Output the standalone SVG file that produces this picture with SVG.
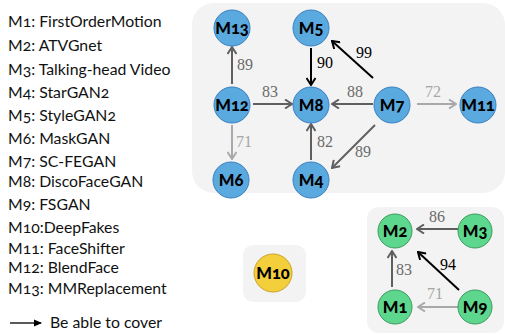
<svg xmlns="http://www.w3.org/2000/svg" width="505" height="335" viewBox="0 0 505 335">
  <style>
    .legend { font-family: Lato, "Open Sans", sans-serif; font-size: 15.8px; fill: #111; font-variant-numeric: oldstyle-nums; font-feature-settings: "onum" 1; }
    .panel { fill: #f3f3f3; }
    .node text { font-family: Lato, "Open Sans", sans-serif; font-weight: 900; font-size: 16.5px; fill: #000; text-anchor: middle; dominant-baseline: central; font-variant-numeric: oldstyle-nums; font-feature-settings: "onum" 1; }
    .blue circle { fill: #5aaae0; stroke: #3d7fc0; stroke-width: 1; }
    .green circle { fill: #5dd68e; stroke: #3c9a5e; stroke-width: 1; }
    .yellow circle { fill: #f4cf3c; stroke: #c9a227; stroke-width: 1; }
    .e { fill: none; stroke-width: 2; }
    .dark { stroke: #5f5f5f; marker-end: url(#ahDark); }
    .light { stroke: #a9a9a9; marker-end: url(#ahLight); }
    .black { stroke: #000; marker-end: url(#ahBlack); }
    .lbl { font-family: "Liberation Serif", serif; font-size: 16px; text-anchor: middle; }
    .lbl.dark { fill: #6a6a6a; stroke: none; marker-end: none; }
    .lbl.light { fill: #a6a6a6; stroke: none; marker-end: none; }
    .lbl.black { fill: #000; stroke: none; marker-end: none; }
  </style>
  <defs>
    <marker id="ahDark" viewBox="0 0 10 10" refX="9" refY="5" markerWidth="10" markerHeight="10" markerUnits="userSpaceOnUse" orient="auto">
      <path d="M2,0.5 L9,5 L2,9.5" fill="none" stroke="#5f5f5f" stroke-width="2"/>
    </marker>
    <marker id="ahLight" viewBox="0 0 10 10" refX="9" refY="5" markerWidth="10" markerHeight="10" markerUnits="userSpaceOnUse" orient="auto">
      <path d="M2,0.5 L9,5 L2,9.5" fill="none" stroke="#a9a9a9" stroke-width="2"/>
    </marker>
    <marker id="ahBlack" viewBox="0 0 10 10" refX="9" refY="5" markerWidth="10" markerHeight="10" markerUnits="userSpaceOnUse" orient="auto">
      <path d="M2,0.5 L9,5 L2,9.5" fill="none" stroke="#000" stroke-width="2"/>
    </marker>
  </defs>

  <!-- legend -->
  <g id="legend" class="legend">
    <text x="8" y="27">M1: FirstOrderMotion</text>
    <text x="8" y="51">M2: ATVGnet</text>
    <text x="8" y="75">M3: Talking-head Video</text>
    <text x="8" y="98">M4: StarGAN2</text>
    <text x="8" y="121">M5: StyleGAN2</text>
    <text x="8" y="144">M6: MaskGAN</text>
    <text x="8" y="167">M7: SC-FEGAN</text>
    <text x="8" y="187">M8: DiscoFaceGAN</text>
    <text x="8" y="210">M9: FSGAN</text>
    <text x="8" y="233">M10:DeepFakes</text>
    <text x="8" y="254">M11: FaceShifter</text>
    <text x="8" y="273">M12: BlendFace</text>
    <text x="8" y="294">M13: MMReplacement</text>
    <line x1="10" y1="323" x2="41" y2="323" stroke="#000" stroke-width="1.3"/>
    <path d="M34,319.5 L42,323 L34,326.5 Z" fill="#000"/>
    <text x="50" y="328">Be able to cover</text>
  </g>

  <!-- panels -->
  <rect class="panel" x="192" y="3" width="313" height="190" rx="22"/>
  <rect class="panel" x="367" y="207" width="137" height="126" rx="12"/>
  <rect class="panel" x="243" y="245" width="63" height="57" rx="10"/>

  <!-- connectors -->
  <g id="connectors">
    <line class="e dark" x1="232" y1="84" x2="232" y2="47"/>
    <text class="lbl dark" x="245" y="70">89</text>
    <line class="e black" x1="311" y1="48" x2="311" y2="85"/>
    <text class="lbl black" x="325" y="68">90</text>
    <line class="e black" x1="373" y1="78" x2="332" y2="41"/>
    <text class="lbl black" x="364" y="58">99</text>
    <line class="e dark" x1="253" y1="104" x2="292" y2="104"/>
    <text class="lbl dark" x="270" y="97">83</text>
    <line class="e dark" x1="373" y1="104" x2="332" y2="104"/>
    <text class="lbl dark" x="355" y="97">88</text>
    <line class="e light" x1="417" y1="104" x2="456" y2="104"/>
    <text class="lbl light" x="433" y="97">72</text>
    <line class="e light" x1="232" y1="125" x2="232" y2="159"/>
    <text class="lbl light" x="244" y="147">71</text>
    <line class="e dark" x1="311" y1="160" x2="311" y2="124"/>
    <text class="lbl dark" x="325" y="147">82</text>
    <line class="e dark" x1="375" y1="125" x2="332" y2="168"/>
    <text class="lbl dark" x="363" y="157">89</text>

    <line class="e dark" x1="460" y1="229" x2="417" y2="229"/>
    <text class="lbl dark" x="437" y="222">86</text>
    <line class="e dark" x1="392" y1="287" x2="392" y2="251"/>
    <text class="lbl dark" x="404" y="275">83</text>
    <line class="e black" x1="459" y1="290" x2="418" y2="252"/>
    <text class="lbl black" x="448" y="270">94</text>
    <line class="e light" x1="460" y1="307" x2="418" y2="307"/>
    <text class="lbl light" x="435" y="299">71</text>
  </g>

  <!-- nodes -->
  <g id="M13" class="node blue"><circle cx="232" cy="28" r="18"/><text x="232" y="28">M13</text></g>
  <g id="M5" class="node blue"><circle cx="311" cy="28" r="18"/><text x="311" y="28">M5</text></g>
  <g id="M12" class="node blue"><circle cx="232" cy="105" r="18"/><text x="232" y="105">M12</text></g>
  <g id="M8" class="node blue"><circle cx="311" cy="105" r="18"/><text x="311" y="105">M8</text></g>
  <g id="M7" class="node blue"><circle cx="392" cy="105" r="18"/><text x="392" y="105">M7</text></g>
  <g id="M11" class="node blue"><circle cx="478" cy="105" r="18"/><text x="478" y="105">M11</text></g>
  <g id="M6" class="node blue"><circle cx="231" cy="180" r="18"/><text x="231" y="180">M6</text></g>
  <g id="M4" class="node blue"><circle cx="311" cy="180" r="18"/><text x="311" y="180">M4</text></g>

  <g id="M2" class="node green"><circle cx="395" cy="231" r="17"/><text x="395" y="231">M2</text></g>
  <g id="M3" class="node green"><circle cx="475" cy="231" r="17"/><text x="475" y="231">M3</text></g>
  <g id="M1" class="node green"><circle cx="395" cy="307" r="17"/><text x="395" y="307">M1</text></g>
  <g id="M9" class="node green"><circle cx="475" cy="307" r="17"/><text x="475" y="307">M9</text></g>

  <g id="M10" class="node yellow"><circle cx="273" cy="273" r="19"/><text x="273" y="273">M10</text></g>
</svg>
